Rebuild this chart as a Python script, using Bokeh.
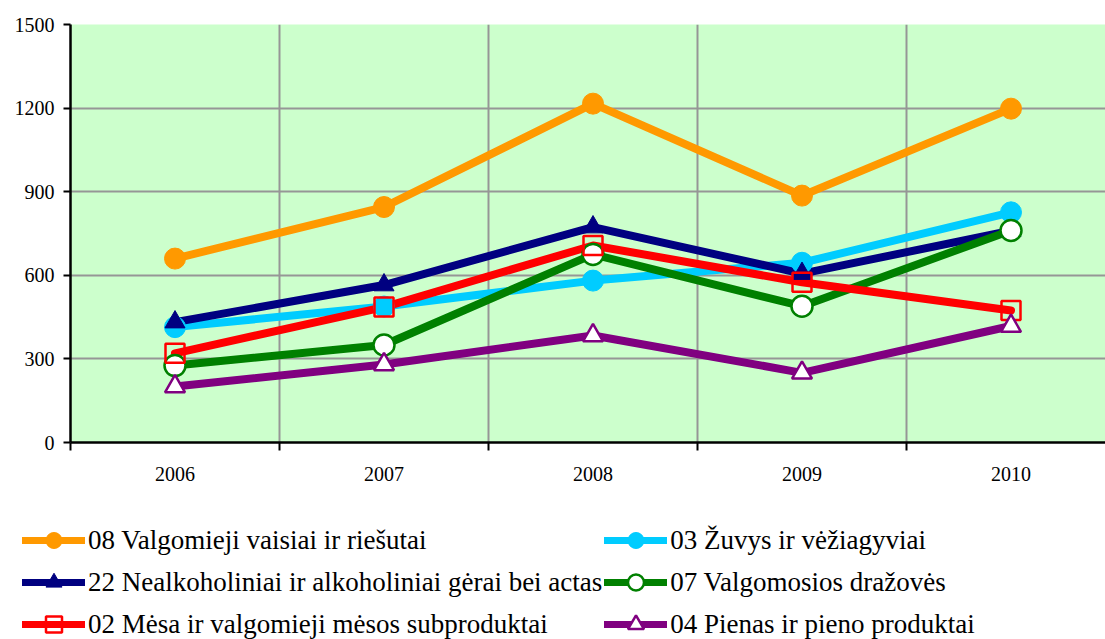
from bokeh.plotting import figure
from bokeh.models import Range1d, FixedTicker, Legend, LegendItem
from bokeh.embed import file_html
from bokeh.resources import INLINE

years = [2006, 2007, 2008, 2009, 2010]
s08 = [660, 845, 1216, 886, 1198]
s03 = [414, 488, 581, 645, 826]
s22 = [432, 565, 773, 606, 760]
s07 = [276, 350, 675, 489, 761]
s02 = [320, 486, 707, 575, 474]
s04 = [201, 280, 384, 250, 418]
y_ticks = [0, 300, 600, 900, 1200, 1500]
boundaries = [2005.5, 2006.5, 2007.5, 2008.5, 2009.5, 2010.5]

names = [
    "08 Valgomieji vaisiai ir riešutai",
    "03 Žuvys ir vėžiagyviai",
    "22 Nealkoholiniai ir alkoholiniai gėrai bei actas",
    "07 Valgomosios dražovės",
    "02 Mėsa ir valgomieji mėsos subproduktai",
    "04 Pienas ir pieno produktai",
]
series = [s08, s03, s22, s07, s02, s04]
colors = ["#FF9900", "#00CCFF", "#000080", "#008000", "#FF0000", "#800080"]
markers = ["circle", "circle", "triangle", "circle", "square", "triangle"]
fills = ["#FF9900", "#00CCFF", "#000080", "white", None, "white"]
sizes = [21, 21, 20, 21, 19, 20]

FONT = "Liberation Serif"

p = figure(width=1105, height=490, output_backend="svg", toolbar_location=None,
           x_range=Range1d(2005.5, 2005.5 + 1035 / 209), y_range=Range1d(0, 1500),
           min_border_left=70, min_border_right=0, min_border_top=24, min_border_bottom=48,
           background_fill_color="#CCFFCC", border_fill_color="white", outline_line_color=None)

p.xaxis.ticker = FixedTicker(ticks=years, minor_ticks=boundaries)
p.xaxis.major_tick_out = 0
p.xaxis.major_tick_in = 0
p.xaxis.minor_tick_out = 8
p.xaxis.minor_tick_in = 0
p.xaxis.minor_tick_line_color = "black"
p.xaxis.minor_tick_line_width = 2
p.xaxis.major_label_standoff = 16
p.xgrid.ticker = FixedTicker(ticks=boundaries[1:])

p.yaxis.ticker = FixedTicker(ticks=y_ticks)
p.yaxis.major_tick_out = 7
p.yaxis.major_tick_in = 0
p.yaxis.minor_tick_out = 0
p.yaxis.major_tick_line_width = 2
p.yaxis.major_label_standoff = 9

for ax in (p.xaxis, p.yaxis):
    ax.axis_line_color = "black"
    ax.axis_line_width = 2.5
    ax.major_tick_line_color = "black"
    ax.major_label_text_font = FONT
    ax.major_label_text_font_size = "20px"
    ax.major_label_text_color = "black"

for g in (p.xgrid, p.ygrid):
    g.grid_line_color = "#969696"
    g.grid_line_width = 2


def style_marker(fig, xs, ys, c, m, f, s):
    if f is None:
        return fig.scatter(xs, ys, marker=m, size=s, line_color=c, line_width=2.5, fill_alpha=0)
    if f == "white":
        return fig.scatter(xs, ys, marker=m, size=s, line_color=c, line_width=2.5, fill_color="white")
    return fig.scatter(xs, ys, marker=m, size=s, line_color=c, line_width=1, fill_color=f)


for ys, c in zip(series, colors):
    p.line(years, ys, line_color=c, line_width=8, line_join="round", line_cap="round")
for ys, c, m, f, s in zip(series, colors, markers, fills, sizes):
    style_marker(p, years, ys, c, m, f, s)

# legend panel: same series, drawn out of its view, used only for legend glyphs
q = figure(width=1105, height=149, output_backend="svg", toolbar_location=None,
           x_range=Range1d(2005.5, 2010.5), y_range=Range1d(-3000, -2000),
           x_axis_location=None, y_axis_location=None,
           min_border_left=0, min_border_right=0, min_border_top=0, min_border_bottom=0,
           background_fill_color="white", border_fill_color="white", outline_line_color=None)
q.xgrid.visible = False
q.ygrid.visible = False

item_map = {}
for n, ys, c, m, f, s in zip(names, series, colors, markers, fills, sizes):
    lr = q.line(years, ys, line_color=c, line_width=7, line_cap="round")
    mr = style_marker(q, years, ys, c, m, f, s)
    item_map[n] = LegendItem(label=n, renderers=[lr, mr])

# column-major fill: left column first, then right column
order = [names[0], names[2], names[4], names[1], names[3], names[5]]
legend = Legend(items=[item_map[n] for n in order], ncols=2, location=(22, -5), padding=0, margin=0,
                background_fill_alpha=0, border_line_color=None,
                glyph_width=63, glyph_height=40, label_height=40, spacing=2,
                label_standoff=3, label_text_font=FONT, label_text_font_size="27px",
                label_text_color="black")
q.add_layout(legend, "center")

open("out.html", "w").write(file_html([p, q], INLINE))
